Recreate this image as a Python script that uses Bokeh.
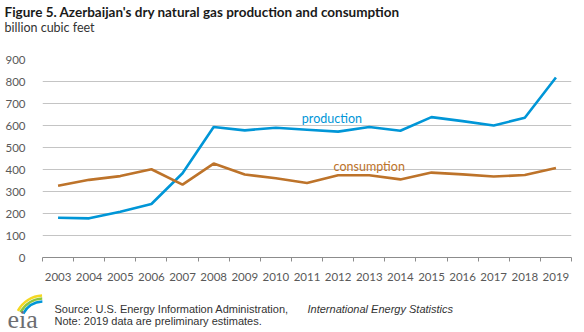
from bokeh.plotting import figure
from bokeh.layouts import column
from bokeh.models import Range1d, FixedTicker, Label
from bokeh.embed import file_html
from bokeh.resources import INLINE

years = list(range(2003, 2020))
production = [181, 178, 208, 243, 383, 593, 578, 590, 581, 572, 593, 576, 638, 620, 600, 635, 818]
consumption = [326, 353, 370, 401, 331, 427, 377, 360, 339, 374, 374, 355, 386, 378, 368, 375, 407]
y_ticks = [0, 100, 200, 300, 400, 500, 600, 700, 800, 900]

BLUE = "#0096d7"
BROWN = "#bd732a"
GRID = "#c4c4c4"
TXT = "#595959"

W = 584
HEAD_H, FOOT_H = 44, 40
MAIN_H = 332 - HEAD_H - FOOT_H
FL, FR, FT, FB = 42, 571, 59, 257  # frame edges in page pixels
SHIFT = 4.5  # measured baseline offset of rendered labels


def blank(h):
    f = figure(width=W, height=h, output_backend="svg", toolbar_location=None,
               x_range=Range1d(0, W), y_range=Range1d(0, h),
               x_axis_type=None, y_axis_type=None, frame_align=False,
               min_border=0, min_border_left=0, min_border_right=0, min_border_top=0, min_border_bottom=0)
    f.grid.visible = False
    f.outline_line_color = None
    return f


# header
head = blank(HEAD_H)
head.add_layout(Label(x=4, y=HEAD_H - (15.5 - SHIFT), text="Figure 5. Azerbaijan's dry natural gas production and consumption",
                      text_font="Lato", text_font_style="bold", text_font_size="13.5px", text_color="#1a1a1a",
                      text_baseline="alphabetic"))
head.add_layout(Label(x=4, y=HEAD_H - (31.5 - SHIFT), text="billion cubic feet", text_font="Lato",
                      text_font_size="12.5px", text_color="#333333", text_baseline="alphabetic"))

# main chart
X0, X1 = years[0] - 0.5, years[-1] + 0.5
p = figure(width=W, height=MAIN_H, output_backend="svg", toolbar_location=None,
           x_range=Range1d(X0, X1), y_range=Range1d(0, 900), frame_align=False,
           min_border_left=FL, min_border_right=W - FR,
           min_border_top=FT - HEAD_H, min_border_bottom=HEAD_H + MAIN_H - FB)
p.outline_line_color = None

p.xaxis.ticker = FixedTicker(ticks=years, minor_ticks=[y - 0.5 for y in years] + [years[-1] + 0.5])
p.xaxis.major_tick_line_color = None
p.xaxis.minor_tick_line_color = "#8c8c8c"
p.xaxis.minor_tick_out = 4
p.xaxis.minor_tick_in = 0
p.xaxis.axis_line_color = "#8c8c8c"
p.xaxis.axis_line_width = 1
p.xaxis.major_label_standoff = 9
p.xaxis.major_label_text_font = "Lato"
p.xaxis.major_label_text_font_size = "11.5px"
p.xaxis.major_label_text_color = TXT

p.yaxis.ticker = FixedTicker(ticks=y_ticks)
p.yaxis.axis_line_color = None
p.yaxis.major_tick_line_color = None
p.yaxis.minor_tick_line_color = None
p.yaxis.major_label_standoff = 11
p.yaxis.major_label_text_font = "Lato"
p.yaxis.major_label_text_font_size = "11.5px"
p.yaxis.major_label_text_color = TXT

p.xgrid.grid_line_color = None
p.ygrid.grid_line_color = GRID
p.ygrid.grid_line_width = 1.2

p.line(years, production, line_color=BLUE, line_width=2.6)
p.line(years, consumption, line_color=BROWN, line_width=2.6)

p.add_layout(Label(x=2011.8, y=633, text="production", text_color=BLUE, text_font="Lato",
                   text_font_size="12.5px", text_align="center", text_baseline="middle"))
p.add_layout(Label(x=2013.0, y=413, text="consumption", text_color=BROWN, text_font="Lato",
                   text_font_size="12.5px", text_align="center", text_baseline="middle"))

# footer (y measured upward from the page bottom)
foot = blank(FOOT_H)
foot.add_layout(Label(x=54, y=332 - (312.5 - SHIFT), text="Source: U.S. Energy Information Administration,",
                      text_font="Liberation Sans", text_font_size="11px", text_color="#333333",
                      text_baseline="alphabetic"))
foot.add_layout(Label(x=307, y=332 - (312.5 - SHIFT), text="International Energy Statistics",
                      text_font="Liberation Sans", text_font_style="italic", text_font_size="11px",
                      text_color="#333333", text_baseline="alphabetic"))
foot.add_layout(Label(x=54, y=332 - (324.5 - SHIFT), text="Note: 2019 data are preliminary estimates.",
                      text_font="Liberation Sans", text_font_size="11px", text_color="#333333",
                      text_baseline="alphabetic"))
foot.add_layout(Label(x=7, y=332 - 319, text="eia", text_font="Liberation Serif", text_font_size="26px",
                      text_color="#6d6e71", text_baseline="alphabetic"))
for r, c in [(29, "#f4d823"), (26, "#8dc63f"), (23, "#0096d7")]:
    foot.arc(x=43, y=332 - 324, radius=r, start_angle=1.62, end_angle=2.65, line_color=c, line_width=2.6)

page = column(head, p, foot, spacing=0)
open("out.html", "w").write(file_html(page, INLINE))
